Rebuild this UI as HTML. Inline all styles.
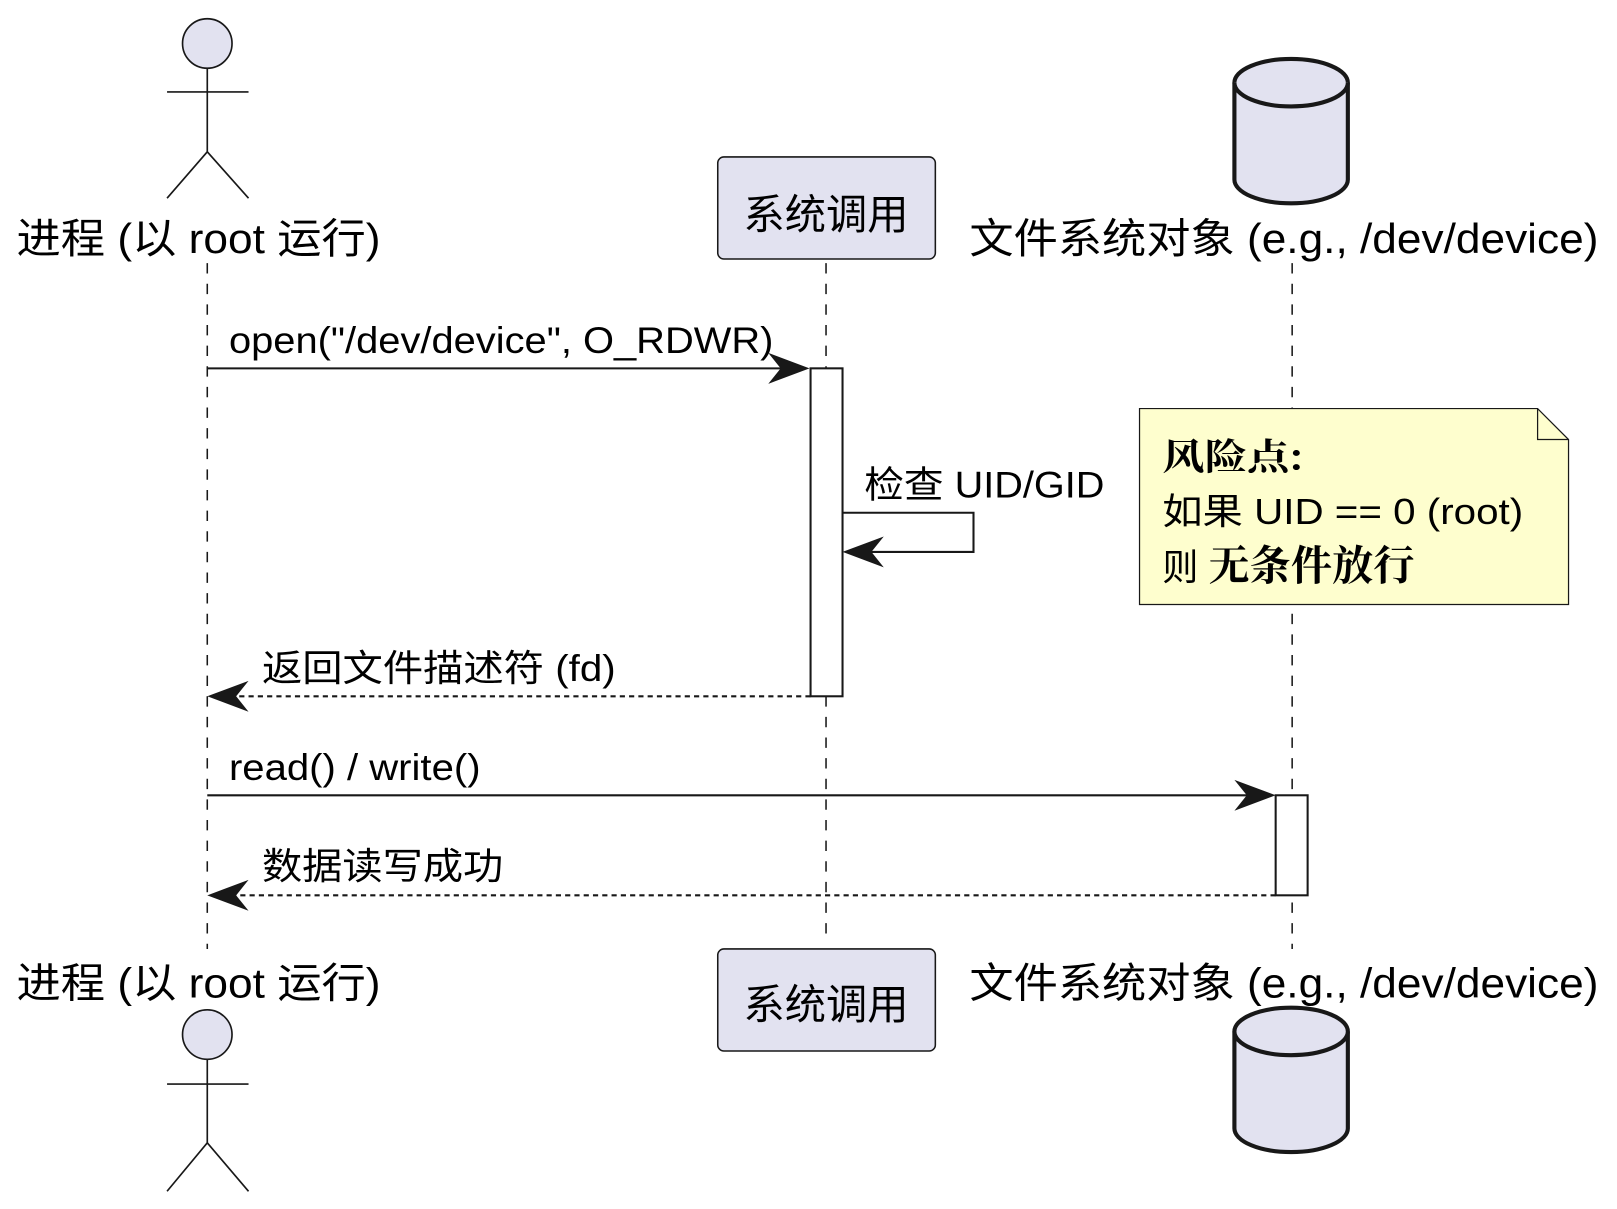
<!DOCTYPE html>
<html><head><meta charset="utf-8"><style>html,body{margin:0;padding:0;background:#fff}svg{display:block}</style></head>
<body>
<svg width="1617" height="1209" viewBox="0 0 1568 1172" xmlns="http://www.w3.org/2000/svg" font-family="Liberation Sans, Noto Sans CJK SC, sans-serif" fill="none">
<g stroke="#181818" stroke-width="1.5" stroke-dasharray="10,10">
<line x1="201" y1="255" x2="201" y2="920"/>
<line x1="801" y1="255" x2="801" y2="910"/>
<line x1="1253" y1="255" x2="1253" y2="920"/>
</g>
<g stroke="#181818" stroke-width="1.6">
<circle cx="201" cy="42" r="24" fill="#E2E2F0"/>
<line x1="201" y1="66" x2="201" y2="147"/>
<line x1="162" y1="89" x2="241" y2="89"/>
<polyline points="162,192 201,147 241,192"/>
<circle cx="201" cy="1003" r="24" fill="#E2E2F0"/>
<line x1="201" y1="1027" x2="201" y2="1108"/>
<line x1="162" y1="1051" x2="241" y2="1051"/>
<polyline points="162,1155 201,1108 241,1155"/>
</g>
<rect x="696" y="152" width="211" height="99" rx="6" fill="#E2E2F0" stroke="#181818" stroke-width="1.5"/>
<rect x="696" y="920" width="211" height="99" rx="6" fill="#E2E2F0" stroke="#181818" stroke-width="1.5"/>
<g stroke="#181818" stroke-width="4" fill="#E2E2F0">
<path d="M1197,80 A55,23 0 0 1 1307,80 L1307,174 A55,23 0 0 1 1197,174 Z"/>
<path d="M1197,80 A55,23 0 0 0 1307,80"/>
<path d="M1197,1000 A55,23 0 0 1 1307,1000 L1307,1094 A55,23 0 0 1 1197,1094 Z"/>
<path d="M1197,1000 A55,23 0 0 0 1307,1000"/>
</g>
<g fill="#000" font-size="40">
<text x="16" y="245" textLength="353" lengthAdjust="spacingAndGlyphs">进程 (以 root 运行)</text>
<text x="801" y="222" text-anchor="middle">系统调用</text>
<text x="940" y="245" textLength="610" lengthAdjust="spacingAndGlyphs">文件系统对象 (e.g., /dev/device)</text>
<text x="16" y="967" textLength="353" lengthAdjust="spacingAndGlyphs">进程 (以 root 运行)</text>
<text x="801" y="988" text-anchor="middle">系统调用</text>
<text x="940" y="967" textLength="610" lengthAdjust="spacingAndGlyphs">文件系统对象 (e.g., /dev/device)</text>
</g>
<rect x="786" y="357" width="31" height="318" fill="#fff" stroke="#181818" stroke-width="2"/>
<rect x="1237" y="771" width="31" height="97" fill="#fff" stroke="#181818" stroke-width="2"/>
<g stroke="#181818" stroke-width="2">
<line x1="201" y1="357" x2="780" y2="357"/>
<polyline points="817,497 944,497 944,535 822,535"/>
<line x1="786" y1="675" x2="206" y2="675" stroke-dasharray="5,4"/>
<line x1="201" y1="771" x2="1232" y2="771"/>
<line x1="1237" y1="868" x2="206" y2="868" stroke-dasharray="5,4"/>
</g>
<g fill="#181818">
<path d="M785,357 L745,342 L757,357 L745,372 Z"/>
<path d="M817,535 L857,520 L845,535 L857,550 Z"/>
<path d="M201,675 L241,660 L229,675 L241,690 Z"/>
<path d="M1237,771 L1197,756 L1209,771 L1197,786 Z"/>
<path d="M201,868 L241,853 L229,868 L241,883 Z"/>
</g>
<g fill="#000" font-size="36">
<text x="222" y="342" textLength="528" lengthAdjust="spacingAndGlyphs">open("/dev/device", O_RDWR)</text>
<text x="838" y="482" textLength="233" lengthAdjust="spacingAndGlyphs">检查 UID/GID</text>
<text x="254" y="660" textLength="343" lengthAdjust="spacingAndGlyphs">返回文件描述符 (fd)</text>
<text x="222" y="756" textLength="244" lengthAdjust="spacingAndGlyphs">read() / write()</text>
<text x="254" y="852" textLength="234" lengthAdjust="spacingAndGlyphs">数据读写成功</text>
</g>
<path d="M1105,396 L1491,396 L1521,426 L1521,586 L1105,586 Z" fill="#FEFECE" stroke="#181818" stroke-width="1.2"/>
<path d="M1491,396 L1491,426 L1521,426" stroke="#181818" stroke-width="1.2"/>
<g fill="#000" font-size="35">
<text x="1127" y="455" font-weight="bold" font-family="Noto Serif CJK SC, serif" textLength="137" lengthAdjust="spacingAndGlyphs">风险点:</text>
<text x="1127" y="508" textLength="350" lengthAdjust="spacingAndGlyphs">如果 UID == 0 (root)</text>
<text x="1127" y="562">则 <tspan font-weight="bold" font-family="Noto Serif CJK SC, serif" font-size="40">无条件放行</tspan></text>
</g>
</svg>
</body></html>
